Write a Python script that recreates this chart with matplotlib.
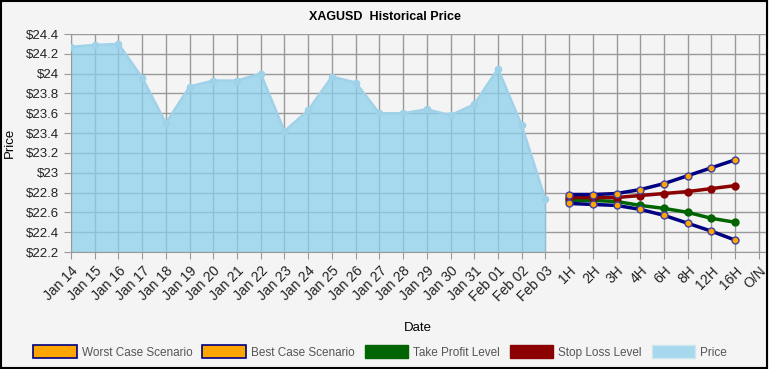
import matplotlib
matplotlib.use("Agg")
from matplotlib import pyplot as plt
from matplotlib.patches import Patch

plt.rcParams['font.family'] = ['Liberation Sans', 'DejaVu Sans']

dates = ['Jan 14', 'Jan 15', 'Jan 16', 'Jan 17', 'Jan 18', 'Jan 19', 'Jan 20',
         'Jan 21', 'Jan 22', 'Jan 23', 'Jan 24', 'Jan 25', 'Jan 26', 'Jan 27',
         'Jan 28', 'Jan 29', 'Jan 30', 'Jan 31', 'Feb 01', 'Feb 02', 'Feb 03']
hours = ['1H', '2H', '3H', '4H', '6H', '8H', '12H', '16H', 'O/N']
price = [24.27, 24.29, 24.30, 23.96, 23.50, 23.87, 23.93, 23.93, 24.00, 23.42,
         23.63, 23.97, 23.91, 23.60, 23.60, 23.64, 23.58, 23.69, 24.05, 23.48, 22.73]
best_case = [22.78, 22.78, 22.79, 22.83, 22.89, 22.97, 23.05, 23.13]
worst_case = [22.69, 22.68, 22.67, 22.63, 22.57, 22.49, 22.41, 22.32]
stop_loss = [22.75, 22.75, 22.75, 22.77, 22.79, 22.81, 22.84, 22.87]
take_profit = [22.72, 22.72, 22.71, 22.67, 22.64, 22.60, 22.54, 22.50]
y_ticks = [22.2, 22.4, 22.6, 22.8, 23.0, 23.2, 23.4, 23.6, 23.8, 24.0, 24.2, 24.4]

bg = '#f4f4f4'
fig = plt.figure(figsize=(7.69, 3.69), dpi=100, facecolor=bg)
ax = fig.add_axes([71 / 769, 1 - 252 / 369, 695 / 769, 218 / 369], facecolor=bg)

labels = dates + hours
xp = list(range(len(dates)))
xh = list(range(len(dates), len(dates) + len(best_case)))

# semi-transparent area so the grid shows through, like the original
ax.fill_between(xp, price, 22.2, color='#8ccfec', alpha=0.75, lw=0, zorder=2)
ax.plot(xp, price, color='#9fd2e8', lw=1.8, marker='o', ms=4.5, zorder=3)

kw = dict(lw=2.5, marker='o', ms=5, zorder=4)
ax.plot(xh, take_profit, color='#006400', mec='#006400', mfc='#006400', **kw)
ax.plot(xh, stop_loss, color='#8b0000', mec='#8b0000', mfc='#8b0000', **kw)
ax.plot(xh, worst_case, color='#000080', mec='#4040a0', mfc='#ffa500', **kw)
ax.plot(xh, best_case, color='#000080', mec='#4040a0', mfc='#ffa500', **kw)

ax.set_xlim(0, len(labels) - 0.7)
ax.set_ylim(22.2, 24.4)
ax.set_xticks(range(len(labels)))
ax.set_xticklabels(labels, rotation=45, ha='right', rotation_mode='anchor', fontsize=10)
ax.set_yticks(y_ticks)
ax.set_yticklabels(['$' + ('%g' % v) for v in y_ticks], fontsize=9.5)
ax.grid(True, color='#999999', lw=1, zorder=1)
ax.set_axisbelow(True)
for s in ['top', 'right']:
    ax.spines[s].set_visible(False)
for s in ['left', 'bottom']:
    ax.spines[s].set_color('#999999')
ax.tick_params(colors='#999999', labelcolor='#222222', length=5)

fig.text(0.5, 1 - 17 / 369, 'XAGUSD  Historical Price', ha='center', va='center',
         fontsize=9, fontweight='bold')
fig.text(10 / 769, 1 - 143 / 369, 'Price', rotation=90, ha='center', va='center', fontsize=9.5)
fig.text(418 / 769, 1 - 328 / 369, 'Date', ha='center', va='center', fontsize=9.5)

handles = [Patch(fc='#ffa500', ec='#000080', lw=1.2),
           Patch(fc='#ffa500', ec='#000080', lw=1.2),
           Patch(fc='#006400', ec='#006400'),
           Patch(fc='#8b0000', ec='#8b0000'),
           Patch(fc='#a6d8ee', ec='#cfe5ef')]
names = ['Worst Case Scenario', 'Best Case Scenario', 'Take Profit Level',
         'Stop Loss Level', 'Price']
leg = fig.legend(handles, names, loc='center', bbox_to_anchor=(380 / 769, 1 - 352 / 369),
                 ncol=5, frameon=False, fontsize=8.5,
                 handlelength=3.7, handleheight=1.2,
                 columnspacing=0.85, handletextpad=0.4)
for t in leg.get_texts():
    t.set_color('#555555')

border = plt.Rectangle((0.001, 0.002), 0.997, 0.996, transform=fig.transFigure,
                       fill=False, ec='black', lw=1.5)
fig.patches.append(border)

fig.savefig('out.png', dpi=100, facecolor=bg)
